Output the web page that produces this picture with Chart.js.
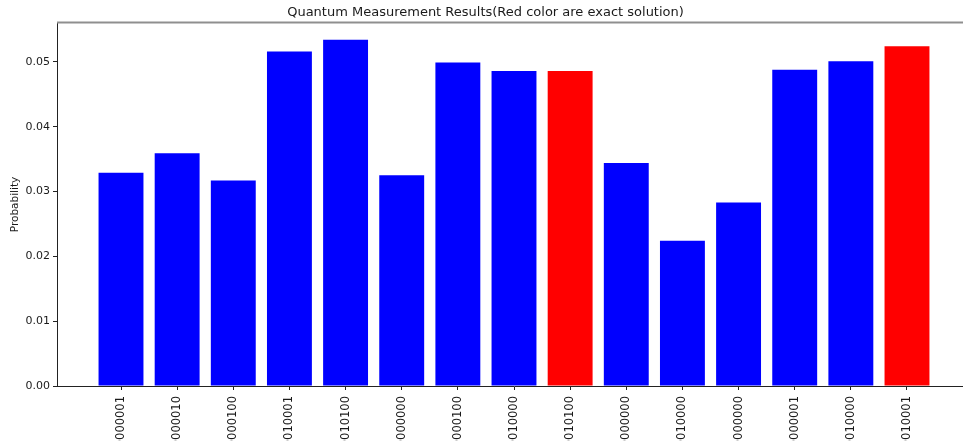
<!DOCTYPE html>
<html>
<head>
<meta charset="utf-8">
<title>Quantum Measurement Results</title>
<script src="https://cdn.jsdelivr.net/npm/chart.js@4/dist/chart.umd.min.js"></script>
<style>
  html, body { margin: 0; padding: 0; background: #fff; overflow: hidden; }
  #wrap { width: 1000px; height: 500px; }
</style>
</head>
<body>
<div id="wrap"><canvas id="chart" width="1000" height="500"></canvas></div>
<script>
// Measured bitstrings (as printed on the axis) and their probabilities
const states = [
  '0000001', '0000010', '0000100', '0010001', '0010100',
  '0000000', '0000100', '0010000', '0010100', '0000000',
  '0010000', '0000000', '0000001', '0010000', '0010001'
];
const probabilities = [
  0.0329, 0.0359, 0.0317, 0.0516, 0.0534,
  0.0325, 0.0499, 0.0486, 0.0486, 0.0344,
  0.0224, 0.0283, 0.0488, 0.0501, 0.0524
];
// Bars that correspond to the exact solution
const exactIndices = [8, 14];
const yTicks = [0, 0.01, 0.02, 0.03, 0.04, 0.05];

const FONT = "'DejaVu Sans', sans-serif";
const TEXT = '#1a1a1a';

const points = probabilities.map((p, i) => ({ x: i, y: p }));
const colors = probabilities.map((_, i) => exactIndices.includes(i) ? '#ff0000' : '#0000ff');

// Top frame line of the plotting area
const frame = {
  id: 'frame',
  afterDraw(chart) {
    const { ctx, chartArea: a } = chart;
    ctx.save();
    ctx.strokeStyle = '#8f8f8f';
    ctx.lineWidth = 2;
    ctx.beginPath();
    ctx.moveTo(a.left, a.top - 0.5);
    ctx.lineTo(a.right, a.top - 0.5);
    ctx.stroke();
    ctx.restore();
  }
};

new Chart(document.getElementById('chart'), {
  type: 'bar',
  data: {
    datasets: [{
      data: points,
      backgroundColor: colors,
      borderWidth: 0,
      barPercentage: 0.8,
      categoryPercentage: 1.0
    }]
  },
  options: {
    responsive: false,
    devicePixelRatio: 1,
    animation: false,
    layout: { padding: { left: 0, right: 29, top: 0, bottom: 0 } },
    plugins: {
      legend: { display: false },
      tooltip: { enabled: false },
      title: {
        display: true,
        text: 'Quantum Measurement Results(Red color are exact solution)',
        color: TEXT,
        font: { family: FONT, size: 13, weight: 'normal' },
        padding: { top: 5, bottom: 2.4 }
      }
    },
    scales: {
      x: {
        type: 'linear',
        min: -1.14,
        max: 15.14,
        offset: false,
        afterBuildTicks(scale) {
          scale.ticks = states.map((_, i) => ({ value: i }));
        },
        afterFit(scale) { scale.height = 114; },
        grid: {
          offset: false,
          drawOnChartArea: false,
          drawTicks: true,
          tickLength: 4,
          color: '#222'
        },
        border: { display: true, color: '#222', width: 1 },
        ticks: {
          autoSkip: false,
          minRotation: 90,
          maxRotation: 90,
          padding: 6,
          color: TEXT,
          font: { family: FONT, size: 11.5 },
          callback: (v) => states[v] ?? ''
        }
      },
      y: {
        min: 0,
        max: 0.056,
        afterBuildTicks(scale) {
          scale.ticks = yTicks.map(v => ({ value: v }));
        },
        afterFit(scale) { scale.width = 57; },
        grid: {
          drawOnChartArea: false,
          drawTicks: true,
          tickLength: 4,
          color: '#222'
        },
        border: { display: true, color: '#222', width: 1 },
        ticks: {
          padding: 3,
          color: TEXT,
          font: { family: FONT, size: 11 },
          callback: (v) => Number(v).toFixed(2)
        },
        title: {
          display: true,
          text: 'Probability',
          color: TEXT,
          font: { family: FONT, size: 10.5 },
          padding: { top: 9, bottom: 0 }
        }
      }
    }
  },
  plugins: [frame]
});
</script>
</body>
</html>
